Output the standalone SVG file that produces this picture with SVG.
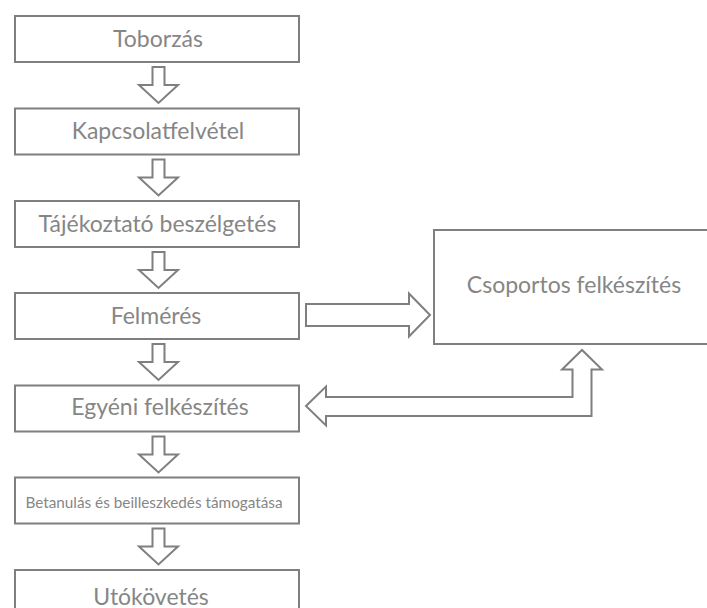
<svg xmlns="http://www.w3.org/2000/svg" width="707" height="608" viewBox="0 0 707 608">
<style>
.box{fill:#ffffff;stroke:#7f7f7f;stroke-width:2}
.arr{fill:#ffffff;stroke:#7f7f7f;stroke-width:2;stroke-linejoin:miter}
.t{font-family:Lato,"Liberation Sans",sans-serif;font-size:23px;fill:#868686;text-anchor:middle}
.s{font-size:15.3px}
</style>
<rect width="707" height="608" fill="#ffffff"/>
<defs>
<path id="down" d="M-6,0 H6 V18 H19.5 L0,36 L-19.5,18 H-6 Z"/>
</defs>
<g id="connectors">
<use href="#down" class="arr" x="158.5" y="67"/>
<use href="#down" class="arr" x="158.5" y="159.5"/>
<use href="#down" class="arr" x="158.5" y="252"/>
<use href="#down" class="arr" x="158.5" y="344"/>
<use href="#down" class="arr" x="158.5" y="436.5"/>
<use href="#down" class="arr" x="158.5" y="528.5"/>
<polygon class="arr" points="306,304 409,304 409,293.5 430,315 409,336.5 409,326 306,326"/>
<polygon class="arr" points="306,406 326,386.5 326,397 572.5,397 572.5,369.5 562,369.5 582,350 602,369.5 591.5,369.5 591.5,416 326,416 326,425.5"/>
</g>
<g id="n1"><rect class="box" x="15" y="16" width="284" height="46"/><text class="t" x="158" y="46.5">Toborzás</text></g>
<g id="n2"><rect class="box" x="15" y="108.5" width="284" height="46"/><text class="t" x="158" y="139">Kapcsolatfelvétel</text></g>
<g id="n3"><rect class="box" x="15" y="201" width="284" height="46"/><text class="t" x="157.5" y="231.5">Tájékoztató beszélgetés</text></g>
<g id="n4"><rect class="box" x="15" y="293" width="284" height="46"/><text class="t" x="156" y="323.5">Felmérés</text></g>
<g id="n5"><rect class="box" x="15" y="385.5" width="284" height="46"/><text class="t" x="160" y="415">Egyéni felkészítés</text></g>
<g id="n6"><rect class="box" x="15" y="477.5" width="284" height="46"/><text class="t s" x="154" y="507.5">Betanulás és beilleszkedés támogatása</text></g>
<g id="n7"><rect class="box" x="15" y="570" width="284" height="46"/><text class="t" x="151" y="604.5">Utókövetés</text></g>
<g id="n8"><rect class="box" x="434" y="230" width="275" height="114"/><text class="t" x="574" y="293">Csoportos felkészítés</text></g>
</svg>
